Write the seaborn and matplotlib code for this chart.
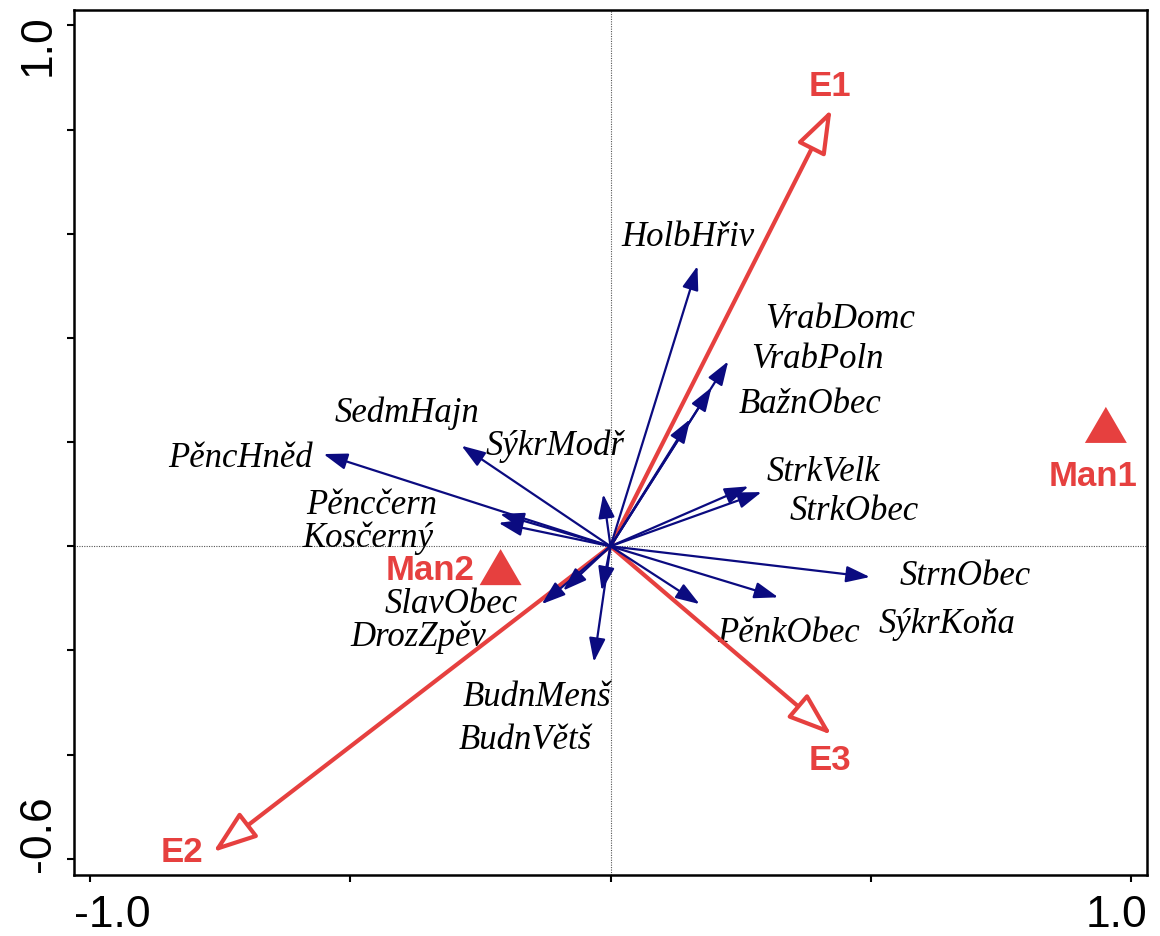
import numpy as np
import pandas as pd
import matplotlib
matplotlib.use("Agg")
import matplotlib.pyplot as plt
from matplotlib.path import Path
import seaborn as sns

# ---- species vectors (arrow tips) ----
species = ["HolbHřiv", "VrabDomc", "VrabPoln", "BažnObec", "StrkVelk", "StrkObec",
           "StrnObec", "SýkrKoňa", "PěnkObec", "BudnMenš", "BudnVětš", "DrozZpěv",
           "SlavObec", "Kosčerný", "Pěncčern", "PěncHněd", "SedmHajn", "SýkrModř"]
species_x = [0.167, 0.226, 0.194, 0.153, 0.265, 0.290,
             0.498, 0.322, 0.171, -0.017, -0.032, -0.091,
             -0.132, -0.215, -0.212, -0.551, -0.286, -0.014]
species_y = [0.538, 0.355, 0.305, 0.244, 0.115, 0.104,
             -0.059, -0.098, -0.111, -0.085, -0.222, -0.085,
             -0.111, 0.045, 0.062, 0.177, 0.193, 0.100]
# label positions of the species names
label_x = [0.148, 0.441, 0.397, 0.384, 0.409, 0.468,
           0.681, 0.646, 0.341, -0.141, -0.164, -0.369,
           -0.306, -0.465, -0.459, -0.711, -0.391, -0.107]
label_y = [0.595, 0.438, 0.361, 0.275, 0.144, 0.068,
           -0.057, -0.149, -0.165, -0.288, -0.370, -0.172,
           -0.109, 0.018, 0.081, 0.171, 0.258, 0.193]

# ---- environmental variables ----
env = ["E1", "E2", "E3"]
env_x = [0.4245, -0.763, 0.4245]
env_y = [0.839, -0.587, -0.362]
env_label_x = [0.421, -0.822, 0.421]
env_label_y = [0.885, -0.585, -0.409]

# ---- nominal variables (centroids) ----
nominal = ["Man1", "Man2"]
nominal_x = [0.951, -0.211]
nominal_y = [0.233, -0.040]
nominal_label_x = [0.927, -0.346]
nominal_label_y = [0.136, -0.044]

# axis tick positions and end labels
xticks = [-1.0, -0.5, 0.0, 0.5, 1.0]
yticks = [-0.6, -0.4, -0.2, 0.0, 0.2, 0.4, 0.6, 0.8, 1.0]
x_end_labels = ["-1.0", "1.0"]
y_end_labels = ["-0.6", "1.0"]

RED = "#e6403f"
NAVY = "#0b0b80"

sns.set_theme(style="white")
plt.rcParams["font.family"] = ["Liberation Sans", "DejaVu Sans"]
plt.rcParams["text.color"] = "black"

fig = plt.figure(figsize=(11.6, 9.37), dpi=100)
ax = fig.add_axes([0.0638, 0.0651, 0.925, 0.9235])
ax.set_xlim(-1.03, 1.03)
ax.set_ylim(-0.631, 1.03)

# dotted zero lines
ax.axhline(0, color="#555555", lw=0.8, ls=(0, (1, 1.2)), zorder=1)
ax.axvline(0, color="#555555", lw=0.8, ls=(0, (1, 1.2)), zorder=1)

# species labels
for t, lx, ly in zip(species, label_x, label_y):
    ax.text(lx, ly, t, family=["Liberation Serif", "DejaVu Serif"], style="italic",
            fontsize=25, ha="center", va="center", color="black", zorder=2)

# environmental arrows (open heads)
for name, ex, ey, lx, ly in zip(env, env_x, env_y, env_label_x, env_label_y):
    ax.annotate("", xy=(ex, ey), xytext=(0, 0),
                arrowprops=dict(arrowstyle="-|>,head_length=1.35,head_width=0.48",
                                mutation_scale=20, shrinkA=0, shrinkB=0,
                                lw=3, ec=RED, fc="white", joinstyle="round",
                                capstyle="round"),
                zorder=3)
    ax.text(lx, ly, name, fontsize=25, fontweight="bold", color=RED,
            ha="center", va="center", zorder=5)

# species arrows
for sx, sy in zip(species_x, species_y):
    ax.annotate("", xy=(sx, sy), xytext=(0, 0),
                arrowprops=dict(arrowstyle="-|>,head_length=1.45,head_width=0.5",
                                mutation_scale=10, shrinkA=0, shrinkB=0,
                                lw=1.6, ec=NAVY, fc=NAVY),
                zorder=4)

# nominal variable centroids
tri = Path([(0, 0.86), (-1, -0.86), (1, -0.86), (0, 0.86)],
           [Path.MOVETO, Path.LINETO, Path.LINETO, Path.CLOSEPOLY])
cent = pd.DataFrame({"x": nominal_x, "y": nominal_y, "name": nominal})
sns.scatterplot(data=cent, x="x", y="y", marker=tri, s=912, color=RED,
                edgecolor="none", linewidth=0, legend=False, ax=ax, zorder=5)
for t, lx, ly in zip(nominal, nominal_label_x, nominal_label_y):
    ax.text(lx, ly, t, fontsize=25, fontweight="bold", color=RED,
            ha="center", va="center", zorder=5)

ax.set_xlabel("")
ax.set_ylabel("")

# axes frame and ticks
for sp in ax.spines.values():
    sp.set_visible(True)
    sp.set_color("black")
    sp.set_linewidth(1.8)
ax.set_xticks(xticks)
ax.set_yticks(yticks)
ax.set_xticklabels([])
ax.set_yticklabels([])
ax.tick_params(axis="both", direction="out", length=5, width=1.5, color="black",
               bottom=True, left=True, top=False, right=False)

# end labels on the axes
xt = ax.transAxes
ax.text(0.0, -0.0590, x_end_labels[0], transform=xt, fontsize=32, color="black",
        ha="left", va="baseline")
ax.text(1.0, -0.0590, x_end_labels[1], transform=xt, fontsize=32, color="black",
        ha="right", va="baseline")
ax.text(-0.0224, 0.0046, y_end_labels[0], transform=xt, fontsize=32, rotation=90,
        color="black", rotation_mode="anchor", ha="left", va="baseline")
ax.text(-0.0224, 0.9954, y_end_labels[1], transform=xt, fontsize=32, rotation=90,
        color="black", rotation_mode="anchor", ha="right", va="baseline")

fig.savefig("out.png", dpi=100, facecolor="white")
